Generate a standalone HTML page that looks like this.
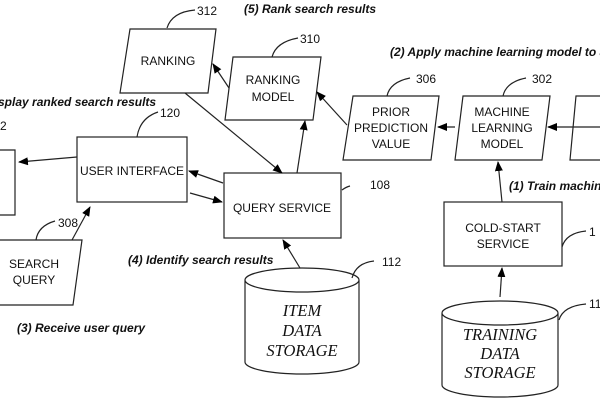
<!DOCTYPE html>
<html><head><style>body{margin:0;background:#fff}svg{display:block}</style></head><body>
<svg width="600" height="400" viewBox="0 0 600 400" xmlns="http://www.w3.org/2000/svg" font-family="Liberation Sans, sans-serif">
<defs><marker id="a" markerWidth="10" markerHeight="8" refX="9" refY="4" orient="auto" markerUnits="userSpaceOnUse"><path d="M0,0 L10,4 L0,8z" fill="#000"/></marker></defs>
<g fill="none" stroke="#222" stroke-width="1.2">
<polygon points="130,29 216,29 208,93 120,93"/>
<polygon points="233,57 321,57 313,120 225,120"/>
<polygon points="353,96 439,96 431,160 343,160"/>
<polygon points="463,96 550,96 542,160 455,160"/>
<polygon points="576,96 610,96 610,160 570,160"/>
<rect x="224" y="173" width="117" height="65"/>
<rect x="77" y="137" width="110" height="65"/>
<polyline points="-5,150 15,150 15,215 -5,215"/>
<polygon points="-5,240 82,240 73,305 -5,305"/>
<rect x="444" y="202" width="118" height="64"/>
<path d="M245,280 L245,362 A57,12 0 0 0 359,362 L359,280 A57,12 0 0 0 245,280 A57,12 0 0 0 359,280"/>
<path d="M442,313 L442,385 A58,12 0 0 0 558,385 L558,313 A58,12 0 0 0 442,313 A58,12 0 0 0 558,313"/>
<g marker-end="url(#a)">
<line x1="600" y1="127" x2="548" y2="127"/>
<line x1="455" y1="127" x2="438" y2="127"/>
<line x1="347" y1="125" x2="317" y2="92"/>
<line x1="229" y1="88" x2="213" y2="64"/>
<line x1="185" y1="93" x2="282" y2="173"/>
<line x1="297" y1="173" x2="305" y2="121"/>
<line x1="223" y1="183" x2="189" y2="171"/>
<line x1="190" y1="193" x2="222" y2="202"/>
<line x1="77" y1="157" x2="19" y2="162"/>
<line x1="72" y1="240" x2="90" y2="207"/>
<line x1="300" y1="268" x2="283" y2="240"/>
<line x1="502" y1="202" x2="498" y2="162"/>
<line x1="500" y1="297" x2="502" y2="268"/>
</g>
<path d="M167,28 Q172,12 195,10"/>
<path d="M272,57 Q276,42 298,38"/>
<path d="M387,96 Q390,82 410,78"/>
<path d="M503,96 Q506,82 526,78"/>
<path d="M137,137 Q140,118 158,112"/>
<path d="M36,240 Q38,226 55,221"/>
<path d="M352,278 Q356,263 374,261"/>
<path d="M562,247 Q566,233 586,231"/>
<path d="M559,320 Q563,306 586,304"/>
<path d="M342,190 Q346,187 350,186"/>
</g>
<g font-size="12" text-anchor="middle" fill="#111">
<text x="168" y="65">RANKING</text>
<text x="273" y="84">RANKING</text><text x="273" y="101">MODEL</text>
<text x="391" y="116">PRIOR</text><text x="391" y="132">PREDICTION</text><text x="391" y="148">VALUE</text>
<text x="502" y="116">MACHINE</text><text x="502" y="132">LEARNING</text><text x="502" y="148">MODEL</text>
<text x="132" y="175">USER INTERFACE</text>
<text x="282" y="212">QUERY SERVICE</text>
<text x="34" y="268">SEARCH</text><text x="34" y="284">QUERY</text>
<text x="503" y="232">COLD-START</text><text x="503" y="248">SERVICE</text>
</g>
<g font-family="Liberation Serif, serif" font-style="italic" font-size="16.5" text-anchor="middle" fill="#111">
<text x="302" y="316">ITEM</text><text x="302" y="336">DATA</text><text x="302" y="356">STORAGE</text>
<text x="500" y="340">TRAINING</text><text x="500" y="359">DATA</text><text x="500" y="378">STORAGE</text>
</g>
<g font-size="12" fill="#111">
<text x="197" y="15">312</text><text x="300" y="43">310</text><text x="416" y="83">306</text><text x="532" y="83">302</text>
<text x="160" y="117">120</text><text x="0" y="130">2</text><text x="370" y="189">108</text><text x="58" y="227">308</text>
<text x="382" y="266">112</text><text x="589" y="236">1</text><text x="589" y="308">11</text>
</g>
<g font-size="12" font-weight="bold" font-style="italic" fill="#111">
<text x="244" y="13">(5) Rank search results</text>
<text x="390" y="56">(2) Apply machine learning model to a</text>
<text x="-2" y="106">splay ranked search results</text>
<text x="509" y="190">(1) Train machin</text>
<text x="128" y="264">(4) Identify search results</text>
<text x="17" y="332">(3) Receive user query</text>
</g>
</svg>
</body></html>
